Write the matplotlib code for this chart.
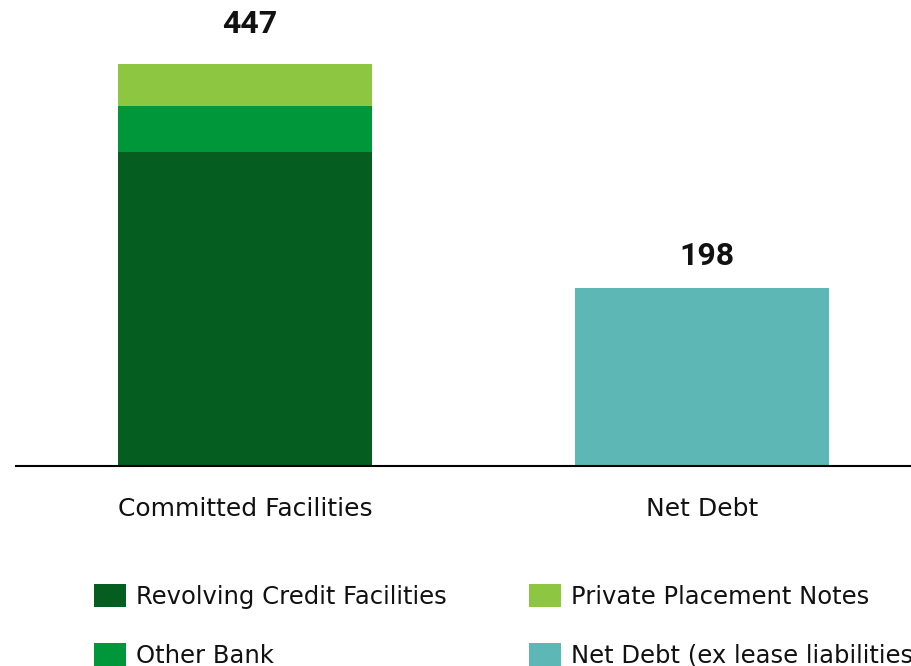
import matplotlib
matplotlib.use("Agg")
import matplotlib.pyplot as plt
from matplotlib.patches import Rectangle

plt.rcParams['font.family'] = ['DejaVu Sans']

# data
categories = ['Committed Facilities', 'Net Debt']
series_names = ['Revolving Credit Facilities', 'Other Bank',
                'Private Placement Notes', 'Net Debt (ex lease liabilities)']
series_values = [
    [349, 0],   # Revolving Credit Facilities
    [51, 0],    # Other Bank
    [47, 0],    # Private Placement Notes
    [0, 198],   # Net Debt (ex lease liabilities)
]
totals = [447, 198]
colors = ['#055E20', '#00963A', '#8DC641', '#5DB8B5']

fig = plt.figure(figsize=(9.11, 6.66), dpi=100)
ax = fig.add_axes([16 / 911, 1 - 466 / 666, 1 - 16 / 911, 466 / 666])

x = list(range(len(categories)))
bottom = [0] * len(categories)
for vals, col in zip(series_values, colors):
    ax.bar(x, vals, width=0.556, bottom=bottom, color=col, linewidth=0)
    bottom = [b + v for b, v in zip(bottom, vals)]

# label gap above each bar (points)
label_pad = [18, 12]
for xi, t, pad in zip(x, totals, label_pad):
    ax.annotate(str(t), (xi + 0.01, t), xytext=(0, pad), textcoords='offset points',
                ha='center', va='bottom', fontsize=23, fontweight='bold',
                family='Roboto', color='#111111')

ax.set_xlim(-0.501, 1.457)
ax.set_ylim(0, 518)
for s in ['top', 'right', 'left']:
    ax.spines[s].set_visible(False)
ax.spines['bottom'].set_linewidth(1.5)
ax.set_yticks([])
ax.set_xticks(x)
ax.set_xticklabels(categories, fontsize=18, color='#111111')
ax.tick_params(axis='x', length=0, pad=22)

# legend, drawn by hand in figure pixels
W, H = 911, 666
legend_pos = [(94, 584), (94, 643), (529, 584), (529, 643)]
for i, (px, py) in enumerate(legend_pos):
    fig.patches.append(Rectangle((px / W, 1 - (py + 23) / H), 32 / W, 23 / H,
                                 transform=fig.transFigure, color=colors[i],
                                 linewidth=0))
    fig.text((px + 42) / W, 1 - (py + 13) / H, series_names[i],
             fontsize=17.5, va='center', ha='left', color='#111111')

fig.savefig('out.png', dpi=100)
